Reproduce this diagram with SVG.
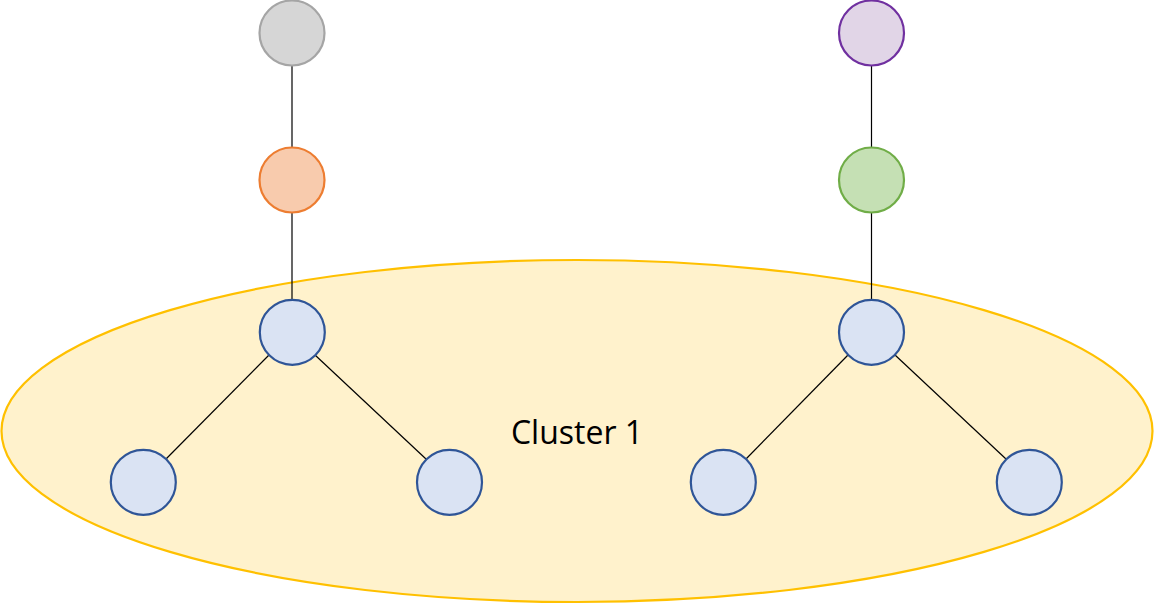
<svg xmlns="http://www.w3.org/2000/svg" width="1154" height="604" viewBox="0 0 1154 604">
<style>
.edge{stroke:#000;stroke-width:1.2;fill:none}
.n{stroke-width:2.2}
.blue{fill:#dae3f3;stroke:#2f5597}
.gray{fill:#d6d6d6;stroke:#a5a5a5}
.orange{fill:#f8cbad;stroke:#ed7d31}
.purple{fill:#e1d5e7;stroke:#7030a0}
.green{fill:#c5e0b4;stroke:#70ad47}
.lbl{font-family:"Open Sans","Noto Sans","Liberation Sans",sans-serif;font-size:32px;fill:#000}
</style>
<rect width="1154" height="604" fill="#fff"/>
<g id="cluster1">
<ellipse cx="577" cy="431" rx="575.5" ry="171" fill="#fff2cc" stroke="#ffc000" stroke-width="2.2"/>
<text class="lbl" x="577" y="444" text-anchor="middle">Cluster 1</text>
</g>
<g id="connectors">
<line class="edge" x1="292" y1="66" x2="292" y2="148"/>
<line class="edge" x1="292" y1="213" x2="292" y2="300"/>
<line class="edge" x1="269" y1="355" x2="166" y2="459"/>
<line class="edge" x1="315" y1="355" x2="426" y2="459"/>
<line class="edge" x1="871.5" y1="66" x2="871.5" y2="148"/>
<line class="edge" x1="871.5" y1="213" x2="871.5" y2="300"/>
<line class="edge" x1="848" y1="355" x2="746" y2="459"/>
<line class="edge" x1="895" y1="355" x2="1006" y2="459"/>
</g>
<g id="gray"><circle class="n gray" cx="292" cy="33" r="32.5"/></g>
<g id="orange"><circle class="n orange" cx="292" cy="180" r="32.5"/></g>
<g id="blueL"><circle class="n blue" cx="292.3" cy="332.3" r="32.5"/></g>
<g id="blueLL"><circle class="n blue" cx="143.3" cy="482.3" r="32.5"/></g>
<g id="blueLR"><circle class="n blue" cx="449.5" cy="482.3" r="32.5"/></g>
<g id="purple"><circle class="n purple" cx="871.5" cy="33" r="32.5"/></g>
<g id="green"><circle class="n green" cx="871.5" cy="180" r="32.5"/></g>
<g id="blueR"><circle class="n blue" cx="871.5" cy="332.3" r="32.5"/></g>
<g id="blueRL"><circle class="n blue" cx="723.3" cy="482.3" r="32.5"/></g>
<g id="blueRR"><circle class="n blue" cx="1029.3" cy="482.3" r="32.5"/></g>
</svg>
